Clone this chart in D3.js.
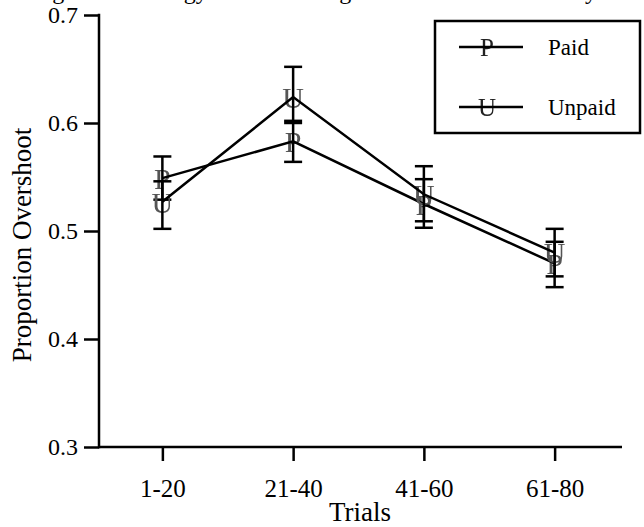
<!DOCTYPE html>
<html>
<meta charset="utf-8">
<style>
body {
  margin: 0;
  background: #fff;
  font-family: "Liberation Serif", "Times New Roman", serif;
}
.axis line, .axis path {
  stroke: #000;
  stroke-width: 2.5;
  fill: none;
}
.marks {
  filter: grayscale(100%);
}
</style>
<body>
<script src="https://d3js.org/d3.v7.min.js"></script>
<script>
// data
var categories = ["1-20", "21-40", "41-60", "61-80"];
var paidMean   = [0.549, 0.583, 0.525, 0.470];
var paidLow    = [0.529, 0.564, 0.503, 0.448];
var paidHigh   = [0.569, 0.602, 0.548, 0.490];
var unpaidMean = [0.527, 0.624, 0.534, 0.480];
var unpaidLow  = [0.502, 0.600, 0.509, 0.458];
var unpaidHigh = [0.546, 0.652, 0.560, 0.502];
var yTicks = [0.3, 0.4, 0.5, 0.6, 0.7];
var seriesNames = ["Paid", "Unpaid"];
var seriesMarks = ["P", "U"];
var titleText = "Using Their Strategy: Overshooting Decreases More Steadily";

var width = 644, height = 527;

var svg = d3.select("body").append("svg")
    .attr("width", width)
    .attr("height", height);

var x = d3.scalePoint().domain(categories).range([97, 620]).padding(0.5);
var y = d3.scaleLinear().domain([0.3, 0.7]).range([447, 15]);

// title, mostly cut off at the top edge
svg.append("text")
    .attr("x", 7)
    .attr("y", -1)
    .style("font-size", "24px")
    .text(titleText);

// y-axis
var yAxis = svg.append("g")
    .attr("class", "axis")
    .attr("transform", "translate(99,0)")
    .call(d3.axisLeft(y).tickValues(yTicks).tickSize(15).tickSizeOuter(0).tickPadding(6).tickFormat(d3.format(".1f")));
yAxis.select(".domain").remove();
yAxis.append("line").attr("x1", 0).attr("x2", 0).attr("y1", y(0.7)).attr("y2", y(0.3)).attr("stroke-linecap", "square");
yAxis.selectAll("text")
    .style("font-family", "Liberation Serif")
    .style("font-size", "24px")
    .attr("fill", "#000");

// x-axis
var xAxis = svg.append("g")
    .attr("class", "axis")
    .attr("transform", "translate(0," + y(0.3) + ")")
    .call(d3.axisBottom(x).tickSize(14).tickSizeOuter(0).tickPadding(18));
xAxis.select(".domain").remove();
xAxis.append("line").attr("x1", 99).attr("x2", 622).attr("y1", 0).attr("y2", 0);
xAxis.selectAll("text")
    .style("font-family", "Liberation Serif")
    .style("font-size", "25px")
    .attr("fill", "#000");

svg.append("text")
    .attr("x", 360)
    .attr("y", 521)
    .attr("text-anchor", "middle")
    .style("font-size", "27px")
    .text("Trials");

svg.append("text")
    .attr("transform", "translate(31," + 245 + ") rotate(-90)")
    .attr("text-anchor", "middle")
    .style("font-size", "27px")
    .text("Proportion Overshoot");

var series = [
  {mark: seriesMarks[0], mean: paidMean, low: paidLow, high: paidHigh},
  {mark: seriesMarks[1], mean: unpaidMean, low: unpaidLow, high: unpaidHigh}
];

var line = d3.line()
    .x(function(d, i) { return x(categories[i]); })
    .y(function(d) { return y(d); });

series.forEach(function(s) {
  var g = svg.append("g");

  g.append("g").attr("class", "marks").selectAll("text")
      .data(s.mean)
    .enter().append("text")
      .attr("x", function(d, i) { return x(categories[i]); })
      .attr("y", function(d) { return y(d); })
      .attr("dy", "0.36em")
      .attr("text-anchor", "middle")
      .attr("fill", "#555")
      .style("font-size", "30px")
      .text(s.mark);

  g.append("path")
      .datum(s.mean)
      .attr("d", line)
      .attr("fill", "none")
      .attr("stroke", "#000")
      .attr("stroke-width", 2.5);

  s.mean.forEach(function(m, i) {
    var cx = x(categories[i]);
    g.append("line").attr("x1", cx).attr("x2", cx)
      .attr("y1", y(s.low[i])).attr("y2", y(s.high[i]))
      .attr("stroke", "#000").attr("stroke-width", 2.5);
    [s.low[i], s.high[i]].forEach(function(v) {
      g.append("line").attr("x1", cx - 9).attr("x2", cx + 9)
        .attr("y1", y(v)).attr("y2", y(v))
        .attr("stroke", "#000").attr("stroke-width", 2.5);
    });
  });
});

// legend
var legend = svg.append("g");
legend.append("rect")
    .attr("x", 435).attr("y", 21)
    .attr("width", 205).attr("height", 112)
    .attr("fill", "#fff")
    .attr("stroke", "#000")
    .attr("stroke-width", 2.5);

seriesNames.forEach(function(name, i) {
  var ly = 47 + i * 60;
  legend.append("text")
      .attr("class", "marks")
      .attr("x", 487).attr("y", ly)
      .attr("dy", "0.36em")
      .attr("text-anchor", "middle")
      .attr("fill", "#222")
      .style("font-size", "25px")
      .text(seriesMarks[i]);
  legend.append("line")
      .attr("x1", 459).attr("x2", 523)
      .attr("y1", ly).attr("y2", ly)
      .attr("stroke", "#000").attr("stroke-width", 2.5);
  legend.append("text")
      .attr("x", 548).attr("y", ly + 8)
      .style("font-size", "23px")
      .text(name);
});
</script>
</body>
</html>
